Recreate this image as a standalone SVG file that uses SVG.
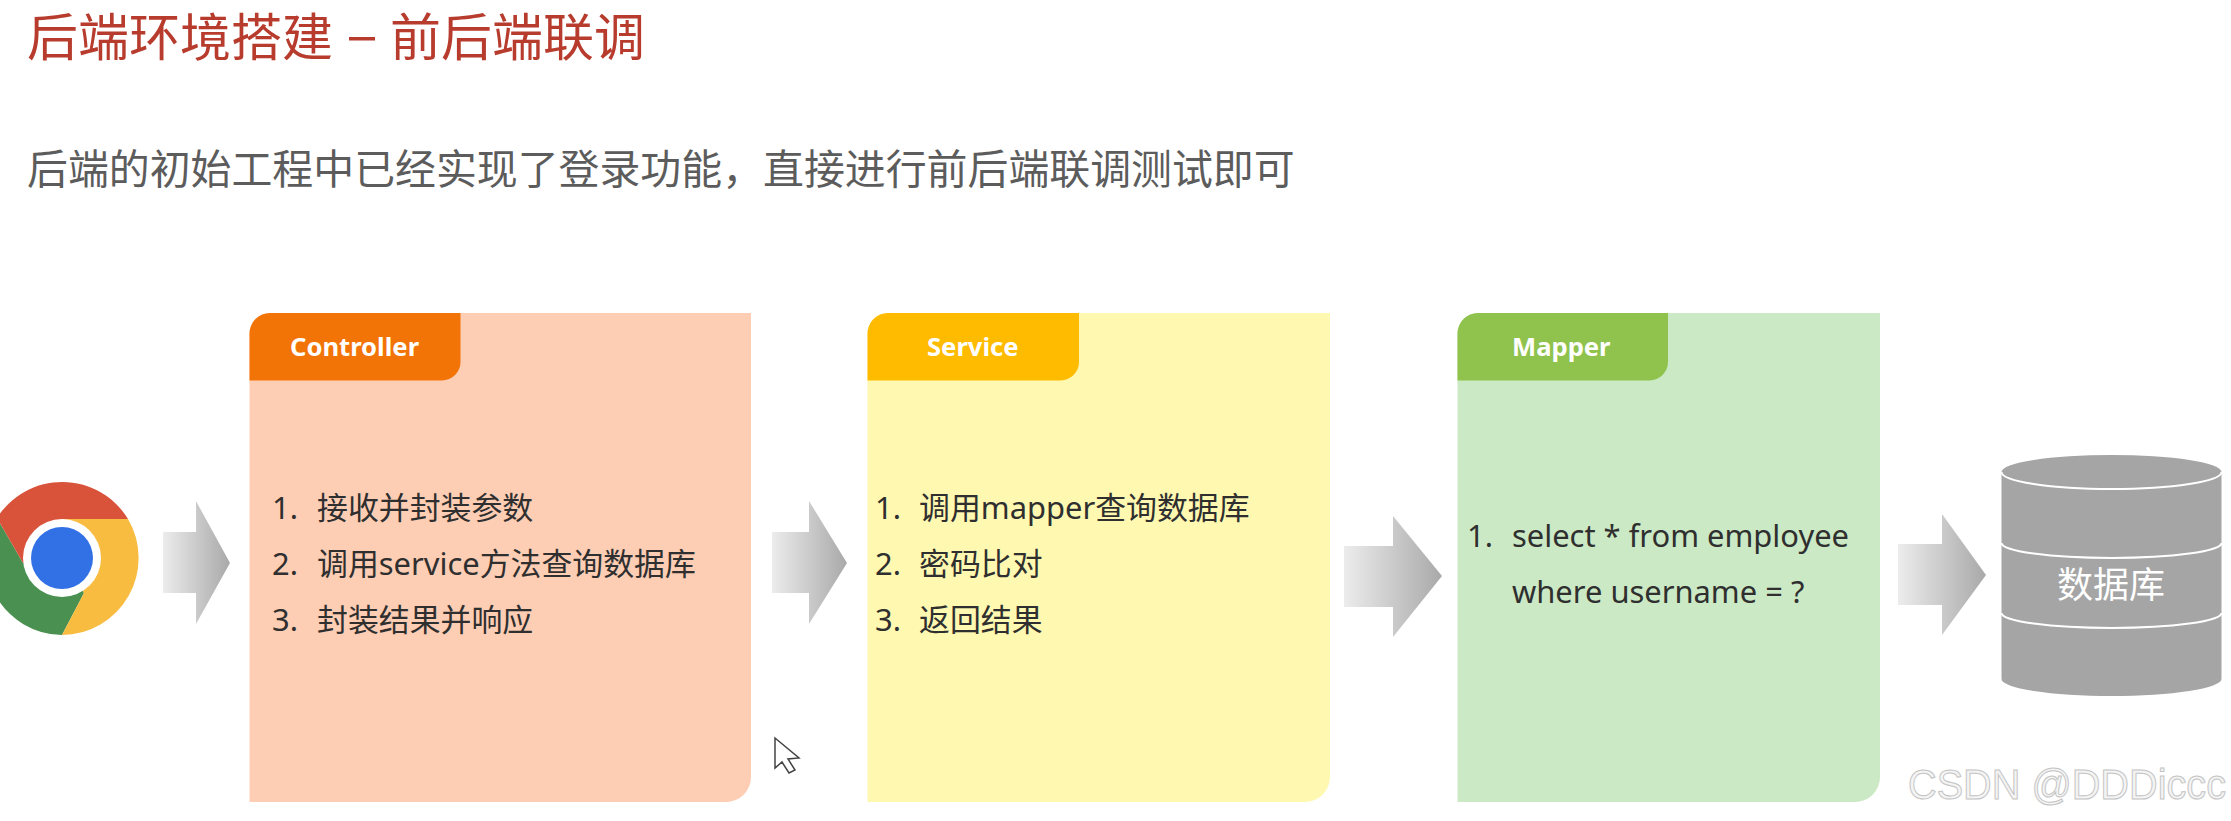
<svg xmlns="http://www.w3.org/2000/svg" width="2231" height="821" viewBox="0 0 2231 821">
<style>
text{font-family:"Noto Sans","Noto Sans CJK SC",sans-serif}
.title{font-family:"Noto Sans CJK SC",sans-serif;font-size:51px;fill:#b83c2d}
.sub{font-family:"Noto Sans CJK SC",sans-serif;font-size:40.9px;fill:#5c5c5c}
.tab{font-size:25.6px;font-weight:700;fill:#fff}
.li{font-size:30.9px;fill:#2f2f2f}
.arrow{fill:url(#ag)}
.band{fill:none;stroke:#fff;stroke-width:2}
</style>
<defs>
<linearGradient id="ag" x1="0" y1="0" x2="1" y2="0"><stop offset="0" stop-color="#ececec"/><stop offset="1" stop-color="#a9a9a9"/></linearGradient>
</defs>
<rect width="2231" height="821" fill="#fff"/>
<g id="heading">
<text class="title" x="27" y="56">后端环境搭建</text>
<rect x="349" y="37" width="26" height="3.500" fill="#b83c2d"/>
<text class="title" x="390" y="56">前后端联调</text>
</g>
<text id="subtitle" class="sub" x="27" y="184">后端的初始工程中已经实现了登录功能，直接进行前后端联调测试即可</text>
<g id="browser">
<path d="M62 558L23 563L-3 518A77 77 0 0 0 62 635L84 593Z" fill="#4a9050"/>
<path d="M62 558L23 563L-3 518A77 77 0 0 1 128 519H62Z" fill="#d9533b"/>
<path d="M62 519H128A77 77 0 0 1 62 635L84 593L62 558Z" fill="#f8bc41"/>
<circle cx="62" cy="558" r="39" fill="#fff"/>
<circle cx="62" cy="558" r="31" fill="#3271e5"/>
</g>
<g id="connectors">
<path class="arrow" d="M163 532H196V501L230 563L196 624V593H163Z"/>
<path class="arrow" d="M772 532H809V501L847 563L809 624V593H772Z"/>
<path class="arrow" d="M1344 546H1393V516L1442 576L1393 637V607H1344Z"/>
<path class="arrow" d="M1898 544H1942V514L1986 575L1942 635V605H1898Z"/>
</g>
<g id="controller">
<path d="M270 313H751V777A25 25 0 0 1 726 802H249.500V333.500A20.500 20.500 0 0 1 270 313Z" fill="#fdcdb4"/>
<path d="M270 313H460.500V362A18.500 18.500 0 0 1 442 380.500H249.500V333.500A20.500 20.500 0 0 1 270 313Z" fill="#f37406"/>
<text class="tab" x="290" y="356">Controller</text>
<text class="li" y="519"><tspan x="272">1.</tspan><tspan x="317">接收并封装参数</tspan></text>
<text class="li" y="575"><tspan x="272">2.</tspan><tspan x="317">调用service方法查询数据库</tspan></text>
<text class="li" y="631"><tspan x="272">3.</tspan><tspan x="317">封装结果并响应</tspan></text>
</g>
<g id="service">
<path d="M888 313H1330V777A25 25 0 0 1 1305 802H867.500V333.500A20.500 20.500 0 0 1 888 313Z" fill="#fef8b1"/>
<path d="M888 313H1079V362A18.500 18.500 0 0 1 1060.500 380.500H867.500V333.500A20.500 20.500 0 0 1 888 313Z" fill="#ffbb00"/>
<text class="tab" x="927" y="356">Service</text>
<text class="li" y="519"><tspan x="875">1.</tspan><tspan x="919">调用mapper查询数据库</tspan></text>
<text class="li" y="575"><tspan x="875">2.</tspan><tspan x="919">密码比对</tspan></text>
<text class="li" y="631"><tspan x="875">3.</tspan><tspan x="919">返回结果</tspan></text>
</g>
<g id="mapper">
<path d="M1478 313H1880V777A25 25 0 0 1 1855 802H1457.500V333.500A20.500 20.500 0 0 1 1478 313Z" fill="#cbe9c4"/>
<path d="M1478 313H1668V362A18.500 18.500 0 0 1 1649.500 380.500H1457.500V333.500A20.500 20.500 0 0 1 1478 313Z" fill="#8fc34d"/>
<text class="tab" x="1512" y="356">Mapper</text>
<text class="li" y="547"><tspan x="1467">1.</tspan><tspan x="1512">select * from employee</tspan></text>
<text class="li" x="1512" y="603">where username = ?</text>
</g>
<g id="database">
<path d="M2001.500 472A110 17 0 0 1 2221.500 472V679A110 17 0 0 1 2001.500 679Z" fill="#a5a5a5"/>
<path class="band" d="M2001.500 472A110 17 0 0 0 2221.500 472"/>
<path class="band" d="M2001.500 543A110 15 0 0 0 2221.500 543"/>
<path class="band" d="M2001.500 613A110 15 0 0 0 2221.500 613"/>
<text x="2111" y="598" text-anchor="middle" font-size="36" fill="#fff" style="font-family:'Noto Sans CJK SC',sans-serif">数据库</text>
</g>
<path id="cursor" d="M775 738V768L782 762L789 773L795 770L788 759L799 758Z" fill="#fff" stroke="#444" stroke-width="1.500"/>
<text id="watermark" x="1908" y="799" font-size="42" textLength="318" lengthAdjust="spacingAndGlyphs" fill="#f4f4f4" stroke="#c4c4c4" stroke-width="1" style="font-family:'Liberation Sans',sans-serif">CSDN @DDDiccc</text>
</svg>
